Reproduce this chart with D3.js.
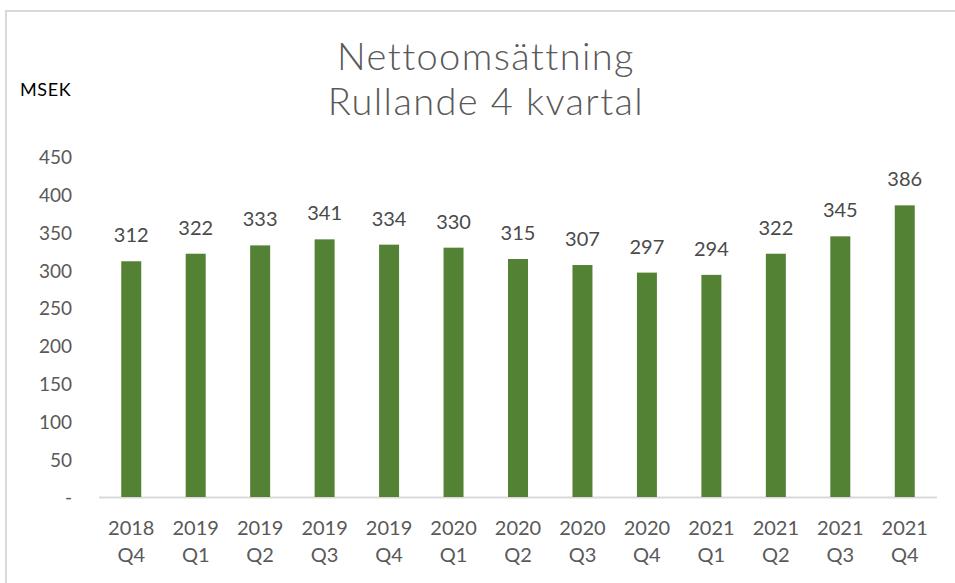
<!DOCTYPE html>
<meta charset="utf-8">
<style>
body { margin: 0; background: #fff; }
.axis path, .axis line { display: none; }
.tick text { font-family: Lato, "Liberation Sans", sans-serif; fill: #595959; }
</style>
<body>
<svg id="chart" width="955" height="583"></svg>
</body>
<script src="https://d3js.org/d3.v7.min.js"></script>
<script>

var years = ["2018", "2019", "2019", "2019", "2019", "2020", "2020", "2020", "2020", "2021", "2021", "2021", "2021"];
var quarters = ["Q4", "Q1", "Q2", "Q3", "Q4", "Q1", "Q2", "Q3", "Q4", "Q1", "Q2", "Q3", "Q4"];
var values = [312, 322, 333, 341, 334, 330, 315, 307, 297, 294, 322, 345, 386];
var yTicks = [0, 50, 100, 150, 200, 250, 300, 350, 400, 450];

var data = values.map(function(v, i) {
  return { key: years[i] + " " + quarters[i], year: years[i], q: quarters[i], value: v };
});

var svg = d3.select("#chart");

// frame (only top and left edges fall inside the picture)
svg.append("path")
    .attr("d", "M6,583 L6,11 L955,11")
    .attr("fill", "none")
    .attr("stroke", "#d9d9d9")
    .attr("stroke-width", 2);

var plotLeft = 99, plotRight = 937, plotTop = 157, plotBottom = 497;

var x = d3.scaleBand().domain(data.map(function(d) { return d.key; }))
    .range([plotLeft, plotRight]).paddingInner(0.69).paddingOuter(0.345);
var y = d3.scaleLinear().domain([0, 450]).range([plotBottom, plotTop]);

// title
var title = svg.append("text")
    .attr("text-anchor", "middle")
    .attr("font-family", "Lato, 'DejaVu Sans', sans-serif")
    .attr("font-weight", 300)
    .attr("font-size", 38)
    .attr("letter-spacing", 1.4)
    .attr("fill", "#595959");
title.append("tspan").attr("x", 486).attr("y", 70).text("Nettoomsättning");
title.append("tspan").attr("x", 486).attr("y", 115).text("Rullande 4 kvartal");

svg.append("text")
    .attr("x", 20).attr("y", 96)
    .attr("font-family", "Lato, 'DejaVu Sans', sans-serif")
    .attr("font-size", 18)
    .attr("letter-spacing", 0.6)
    .attr("fill", "#000")
    .text("MSEK");

// y axis
svg.append("g")
    .attr("class", "axis axis--y")
    .attr("transform", "translate(72,0)")
    .call(d3.axisLeft(y).tickValues(yTicks).tickSize(0).tickPadding(0)
      .tickFormat(function(d) { return d === 0 ? "-" : d; }))
    .selectAll("text")
      .attr("font-size", 19)
      .attr("dy", "0.36em");

// baseline
svg.append("line")
    .attr("x1", plotLeft).attr("x2", plotRight)
    .attr("y1", y(0) + 0.5).attr("y2", y(0) + 0.5)
    .attr("stroke", "#d9d9d9")
    .attr("stroke-width", 2);

// bars
svg.selectAll(".bar")
    .data(data)
    .enter().append("rect")
      .attr("class", "bar")
      .attr("x", function(d) { return x(d.key); })
      .attr("y", function(d) { return y(d.value); })
      .attr("width", x.bandwidth())
      .attr("height", function(d) { return y(0) - y(d.value); })
      .attr("fill", "#548235");

// value labels
svg.selectAll(".label")
    .data(data)
    .enter().append("text")
      .attr("class", "label")
      .attr("x", function(d) { return x(d.key) + x.bandwidth() / 2; })
      .attr("y", function(d) { return y(d.value) - 19; })
      .attr("text-anchor", "middle")
      .attr("font-family", "Lato, 'Liberation Sans', sans-serif")
      .attr("font-size", 20)
      .attr("fill", "#4a4a4a")
      .text(function(d) { return d.value; });

// x axis with two-line labels
var xAxis = svg.append("g")
    .attr("class", "axis axis--x")
    .attr("transform", "translate(0," + plotBottom + ")")
    .call(d3.axisBottom(x).tickSize(0).tickFormat(""));

xAxis.selectAll(".tick text").remove();
xAxis.selectAll(".tick").each(function(k, i) {
  var t = d3.select(this).append("text")
      .attr("text-anchor", "middle")
      .attr("font-size", 20)
      .attr("fill", "#595959");
  t.append("tspan").attr("x", 0).attr("y", 38).text(data[i].year);
  t.append("tspan").attr("x", 0).attr("y", 65).text(data[i].q);
});

</script>
